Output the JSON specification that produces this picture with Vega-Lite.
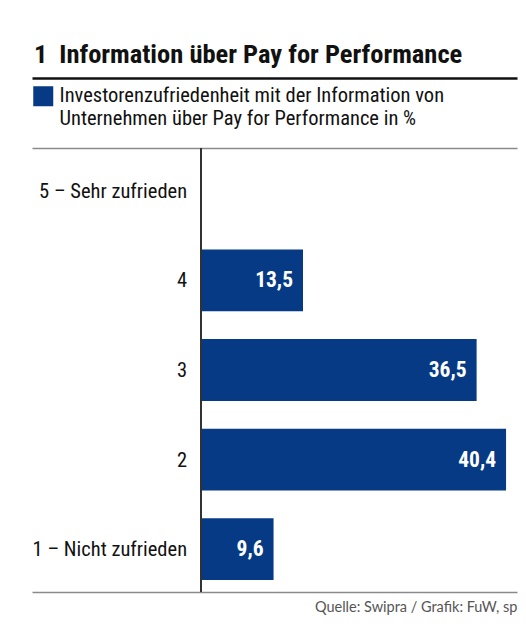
{
  "$schema": "https://vega.github.io/schema/vega-lite/v6.json",
  "width": 485,
  "height": 444,
  "autosize": {"type": "none"},
  "padding": {"left": 32, "top": 148, "right": 9, "bottom": 38},
  "background": "white",
  "config": {
    "view": {"stroke": null},
    "locale": {"number": {"decimal": ",", "thousands": ".", "grouping": [3], "currency": ["", " CHF"]}},
    "font": "Roboto Condensed, Roboto, sans-serif"
  },
  "title": {
    "text": "1\u2002Information über Pay for Performance",
    "anchor": "start",
    "frame": "group",
    "font": "Roboto Condensed, Roboto, sans-serif",
    "fontSize": 26.5,
    "fontWeight": "bold",
    "color": "#111111",
    "offset": 10,
    "dx": 2
  },
  "data": {
    "values": [
      {"cat": "5 – Sehr zufrieden", "value": 0, "serie": "Investorenzufriedenheit mit der Information von Unternehmen über Pay for Performance in %"},
      {"cat": "4", "value": 13.5, "serie": "Investorenzufriedenheit mit der Information von Unternehmen über Pay for Performance in %"},
      {"cat": "3", "value": 36.5, "serie": "Investorenzufriedenheit mit der Information von Unternehmen über Pay for Performance in %"},
      {"cat": "2", "value": 40.4, "serie": "Investorenzufriedenheit mit der Information von Unternehmen über Pay for Performance in %"},
      {"cat": "1 – Nicht zufrieden", "value": 9.6, "serie": "Investorenzufriedenheit mit der Information von Unternehmen über Pay for Performance in %"}
    ]
  },
  "encoding": {
    "y": {
      "field": "cat",
      "type": "nominal",
      "sort": null,
      "scale": {"paddingInner": 0.31, "paddingOuter": 0.135},
      "axis": null
    }
  },
  "layer": [
    {
      "mark": {"type": "bar", "orient": "horizontal"},
      "encoding": {
        "x": {
          "field": "value",
          "type": "quantitative",
          "scale": {"domain": [-22.4, 41.85], "nice": false, "zero": false},
          "axis": {
            "orient": "bottom",
            "domainColor": "#8a8a8a",
            "domainWidth": 1.5,
            "ticks": false,
            "labels": false,
            "grid": false,
            "title": "Quelle: Swipra / Grafik: FuW, sp",
            "titleAnchor": "end",
            "titleFont": "Lato, Open Sans, sans-serif",
            "titleFontSize": 14.5,
            "titleFontWeight": "normal",
            "titleColor": "#555555",
            "titlePadding": 8
          }
        },
        "x2": {"datum": 0},
        "color": {
          "field": "serie",
          "type": "nominal",
          "scale": {"range": ["#073a84"]},
          "legend": {
            "orient": "none",
            "legendX": 1,
            "legendY": -62,
            "title": null,
            "symbolType": "square",
            "symbolSize": 400,
            "symbolStrokeWidth": 0,
            "labelFont": "Roboto Condensed, Roboto, sans-serif",
            "labelFontSize": 20.5,
            "labelColor": "#111111",
            "labelLimit": 600,
            "labelOffset": 6,
            "labelExpr": "[slice(datum.label, 0, 47), slice(datum.label, 48)]"
          }
        }
      }
    },
    {
      "mark": {"type": "rule", "color": "#333333", "strokeWidth": 1.5},
      "encoding": {
        "x": {"datum": 0, "axis": null},
        "y": null
      }
    },
    {
      "transform": [{"filter": "datum.value > 0"}],
      "mark": {"type": "text", "align": "right", "baseline": "middle", "dx": -10, "dy": 1, "fontSize": 21.5, "fontWeight": "bold", "color": "white"},
      "encoding": {
        "x": {
          "field": "value",
          "type": "quantitative",
          "axis": {
            "orient": "top",
            "domainColor": "#8a8a8a",
            "domainWidth": 1.5,
            "ticks": false,
            "labels": false,
            "grid": false,
            "title": null
          }
        },
        "text": {"field": "value", "type": "quantitative", "format": ".1f"}
      }
    },
    {
      "mark": {"type": "text", "align": "right", "baseline": "middle", "dx": -14, "dy": 1, "fontSize": 20.5, "color": "#111111"},
      "encoding": {
        "x": {
          "datum": 0,
          "axis": {
            "orient": "top",
            "offset": 70,
            "domainColor": "#111111",
            "domainWidth": 2.5,
            "ticks": false,
            "labels": false,
            "grid": false,
            "title": null
          }
        },
        "text": {"field": "cat"}
      }
    }
  ],
  "resolve": {"axis": {"x": "independent"}}
}
